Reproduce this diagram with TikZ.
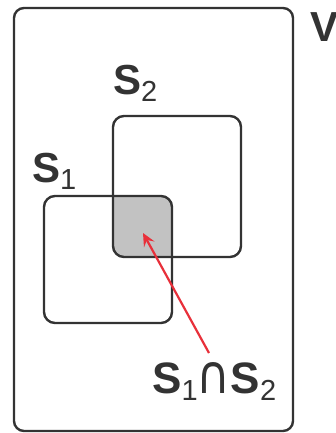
\documentclass[tikz,border=0pt]{standalone}
\usepackage{fontspec}
\usepackage{graphicx}
\setmainfont{Liberation Sans}
\newfontfamily\symfont{DejaVu Sans}
\usetikzlibrary{arrows.meta}
\definecolor{ink}{HTML}{333333}
\definecolor{arrowred}{HTML}{E8303A}
\definecolor{greyfill}{HTML}{C2C2C2}
\newcommand\mysubs[1]{{\fontsize{29}{29}\selectfont\mdseries\raisebox{-7pt}{#1}}}
\newcommand\mycap{\kern-1pt\resizebox{34pt}{31pt}{\symfont\mdseries ∩}\kern0pt}
\begin{document}
\begin{tikzpicture}[x=1pt,y=-1pt,
  box/.style={draw=ink,line width=2.4pt,rounded corners=11pt},
  lbl/.style={inner sep=0pt,anchor=base west,text=ink,font=\fontsize{42}{42}\selectfont\bfseries}]
\useasboundingbox (0,0) rectangle (336,433);
% intersection shading
\begin{scope}
  \clip[rounded corners=11pt] (44,196) rectangle (172,323);
  \fill[greyfill,rounded corners=11pt] (113,116) rectangle (241,257);
\end{scope}
\draw[box,rounded corners=10pt] (14,8) rectangle (293,431);
\draw[box] (113,116) rectangle (241,257);
\draw[box] (44,196) rectangle (172,323);
\node[lbl] (V) at (310,42) {V};
\node[lbl] (s2) at (113,95) {S\mysubs{2}};
\node[lbl] (s1) at (32,182) {S\mysubs{1}};
\node[lbl,font=\fontsize{44}{44}\selectfont\bfseries] (s12) at (152,393) {S\mysubs{1}\mycap S\mysubs{2}};
\coordinate (from) at (209,353);
\coordinate (tip) at (143,233);
\draw[arrowred,line width=2.2pt,-{Stealth[length=13pt,width=12pt,inset=5pt]}] (from) -- (tip);
\end{tikzpicture}
\end{document}
